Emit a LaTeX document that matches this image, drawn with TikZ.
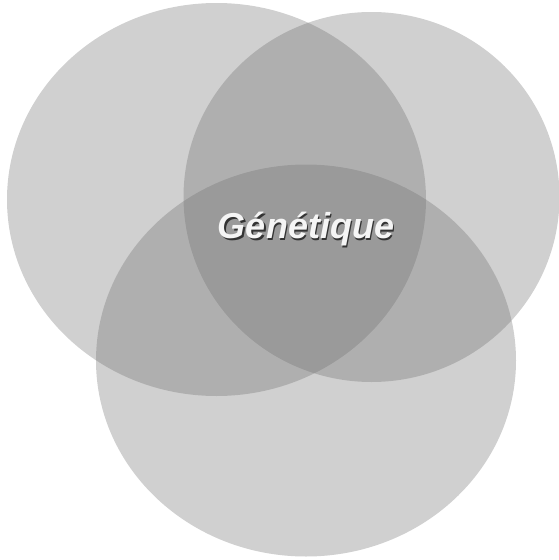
\documentclass[tikz,border=0pt]{standalone}
\usepackage{fontspec}
\setmainfont{Liberation Sans}
\definecolor{discgray}{RGB}{108,108,108}
\newcommand{\shadowtext}[1]{\rlap{\hspace{1.8pt}\raisebox{-1.8pt}{\color{black!80}#1}}#1}
\begin{document}
\begin{tikzpicture}[x=1pt,y=-1pt,
    disc/.style={fill=discgray,fill opacity=0.32},
    title/.style={anchor=base,inner sep=0pt,text=white!96!black,
      font=\fontsize{36}{40}\selectfont\bfseries\itshape}]
    \useasboundingbox (0,0) rectangle (559,560);
    % three overlapping discs
    \fill[disc] (216.5,199.5) ellipse [x radius=209.5,y radius=196.5];
    \fill[disc] (371.5,197) ellipse [x radius=188,y radius=185];
    \fill[disc] (306,360.5) ellipse [x radius=210,y radius=196];
    % label with drop shadow
    \node[title] (label) at (306,238.5) {\shadowtext{Génétique}};
\end{tikzpicture}
\end{document}
